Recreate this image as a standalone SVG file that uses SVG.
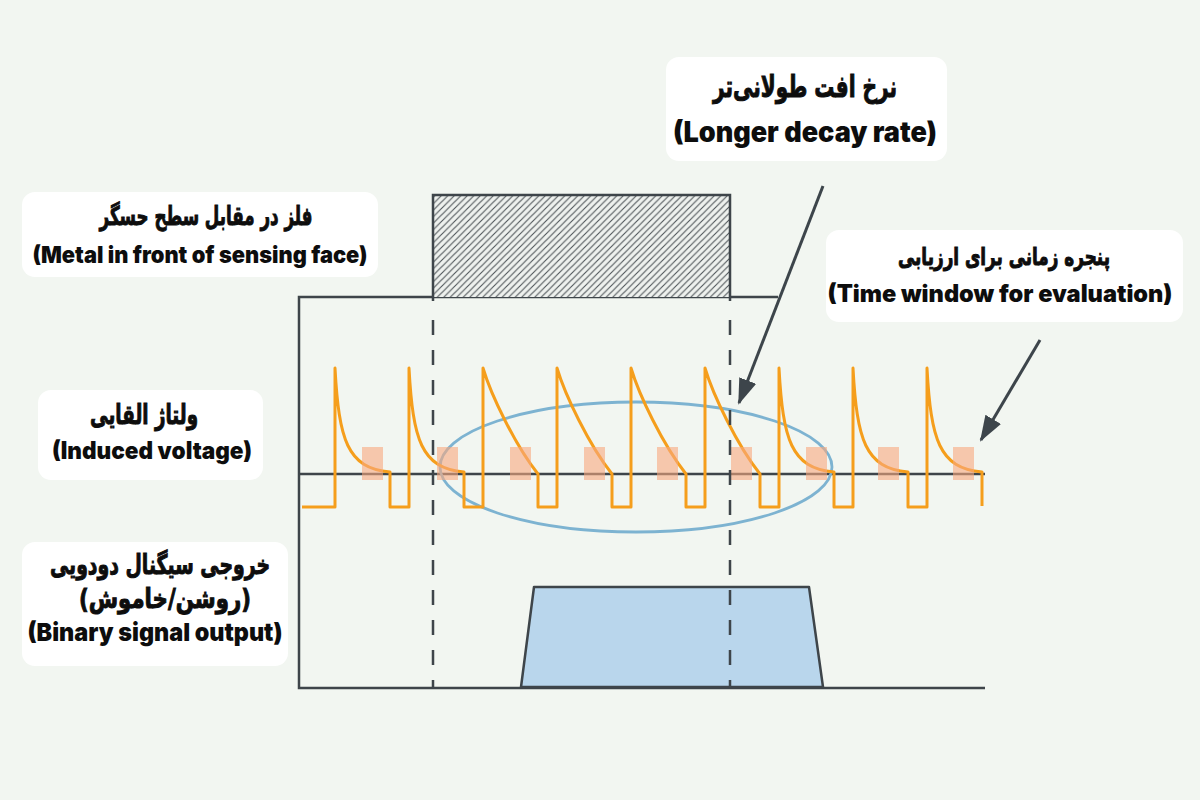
<svg xmlns="http://www.w3.org/2000/svg" width="1200" height="800" viewBox="0 0 1200 800">
<defs>
<pattern id="hatch" width="6.5" height="6.5" patternUnits="userSpaceOnUse">
<path d="M-1,1 L1,-1 M0,6.5 L6.5,0 M5.5,7.5 L7.5,5.5" stroke="#4d5357" stroke-width="1.1"/>
</pattern>
<marker id="ah" markerUnits="userSpaceOnUse" markerWidth="26" markerHeight="20" refX="24" refY="9" orient="auto">
<path d="M0,0 L26,9 L0,18 Z" fill="#3d454b"/>
</marker>
<style>
.frame{stroke:#3e454a;stroke-width:2.5;fill:none}
.dash{stroke:#3e454a;stroke-width:2.5;stroke-dasharray:15 15;fill:none}
.box{fill:#ffffff}
.fa{font-family:"DejaVu Sans",sans-serif;font-weight:bold;fill:#0d0d0d;stroke:#0d0d0d;stroke-width:1;text-anchor:middle}
.en{font-family:Inter,"Liberation Sans",sans-serif;font-weight:900;fill:#0d0d0d;text-anchor:middle}
.sq{fill:#f8a97f;opacity:0.6}
.arrow{stroke:#3d454b;stroke-width:3;fill:none}
</style>
</defs>
<rect width="1200" height="800" fill="#f2f6f1"/>

<g id="frame">
<path class="frame" d="M778,297 H299 V688 H985"/>
<line class="frame" x1="300" y1="474" x2="985" y2="474"/>
</g>

<g id="metal">
<rect x="433" y="195" width="297" height="102" fill="#eef1ee"/>
<rect x="433" y="195" width="297" height="102" fill="url(#hatch)"/>
<path class="frame" d="M433,301 V195 H730 V301"/>
</g>

<g id="output">
<path d="M521,687 L534,587 H809 L823,687 Z" fill="#b9d6ec" stroke="#3e454a" stroke-width="2.5" stroke-linejoin="round"/>
</g>

<g id="ellipse">
<ellipse cx="636" cy="467" rx="196" ry="65" fill="none" stroke="#7db3d1" stroke-width="2.8"/>
</g>

<g id="waveform">
<path fill="none" stroke="#f59e1c" stroke-width="3" stroke-linejoin="round" d="M302,507 H335 V368 C339,440 347,468 390,472 V507 H409 V368 C413,440 421,468 464,472 V507 H483 V368 C491,395 515,445 538,474 V507 H557 V368 C565,395 589,445 612,474 V507 H631 V368 C639,395 663,445 686,474 V507 H705 V368 C713,395 737,445 760,474 V507 H779 V368 C783,440 791,468 834,472 V507 H853 V368 C857,440 865,468 908,472 V507 H927 V368 C931,440 939,468 982,472 V506"/>
</g>

<g id="windows">
<rect class="sq" x="362" y="447" width="21" height="33"/>
<rect class="sq" x="437" y="447" width="21" height="33"/>
<rect class="sq" x="510" y="447" width="21" height="33"/>
<rect class="sq" x="584" y="447" width="21" height="33"/>
<rect class="sq" x="657" y="447" width="21" height="33"/>
<rect class="sq" x="731" y="447" width="21" height="33"/>
<rect class="sq" x="806" y="447" width="21" height="33"/>
<rect class="sq" x="878" y="447" width="21" height="33"/>
<rect class="sq" x="953" y="447" width="21" height="33"/>
</g>

<g id="guides">
<line class="dash" x1="433" y1="320" x2="433" y2="688"/>
<line class="dash" x1="730" y1="320" x2="730" y2="688"/>
</g>

<g id="connectors">
<line class="arrow" x1="823" y1="186" x2="739" y2="403" marker-end="url(#ah)"/>
<line class="arrow" x1="1040" y1="340" x2="981" y2="440" marker-end="url(#ah)"/>
</g>

<g id="label-metal">
<rect class="box" x="22" y="192" width="356" height="85" rx="13"/>
<text class="fa" x="206" y="225" font-size="26" textLength="213" lengthAdjust="spacingAndGlyphs">فلز در مقابل سطح حسگر</text>
<text class="en" x="200" y="263" font-size="23" textLength="335" lengthAdjust="spacingAndGlyphs">(Metal in front of sensing face)</text>
</g>

<g id="label-decay">
<rect class="box" x="666" y="57" width="281" height="104" rx="13"/>
<text class="fa" x="805" y="97" font-size="30" textLength="184" lengthAdjust="spacingAndGlyphs">نرخ افت طولانی&#x200C;تر</text>
<text class="en" x="805" y="142" font-size="28" textLength="264" lengthAdjust="spacingAndGlyphs">(Longer decay rate)</text>
</g>

<g id="label-window">
<rect class="box" x="826" y="230" width="357" height="92" rx="13"/>
<text class="fa" x="1004" y="265" font-size="24" textLength="212" lengthAdjust="spacingAndGlyphs">پنجره زمانی برای ارزیابی</text>
<text class="en" x="1000" y="302" font-size="24" textLength="345" lengthAdjust="spacingAndGlyphs">(Time window for evaluation)</text>
</g>

<g id="label-voltage">
<rect class="box" x="38" y="390" width="225" height="90" rx="13"/>
<text class="fa" x="144" y="424" font-size="27" textLength="108" lengthAdjust="spacingAndGlyphs">ولتاژ القایی</text>
<text class="en" x="152" y="459" font-size="24" textLength="200" lengthAdjust="spacingAndGlyphs">(Induced voltage)</text>
</g>

<g id="label-output">
<rect class="box" x="22" y="542" width="266" height="124" rx="13"/>
<text class="fa" x="160" y="574" font-size="27" textLength="220" lengthAdjust="spacingAndGlyphs">خروجی سیگنال دودویی</text>
<text class="fa" x="165" y="608" font-size="27" textLength="172" lengthAdjust="spacingAndGlyphs">(روشن/خاموش)</text>
<text class="en" x="155" y="641" font-size="25" textLength="255" lengthAdjust="spacingAndGlyphs">(Binary signal output)</text>
</g>
</svg>
